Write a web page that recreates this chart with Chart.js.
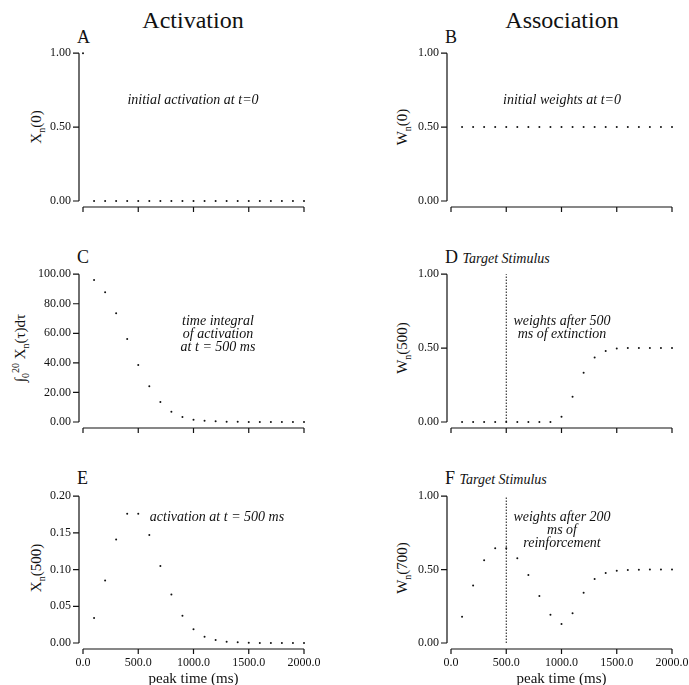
<!DOCTYPE html>
<html lang="en">
<head>
  <meta charset="UTF-8">
  <title>Activation and Association</title>
  <style>
    body {
      margin: 0;
      width: 689px;
      height: 685px;
      overflow: hidden;
      background: #fff;
      font-family: "Liberation Serif", "DejaVu Serif", serif;
      color: #111;
      position: relative;
    }
    canvas {
      position: absolute;
    }
    .txt {
      position: absolute;
      white-space: nowrap;
      transform: translate(-50%, -50%);
      text-align: center;
    }
    .head {
      font-size: 24px;
    }
    .letter {
      position: absolute;
      font-size: 18px;
      transform: translate(0, -50%);
      white-space: nowrap;
    }
    .letter i {
      font-size: 14px;
    }
    .note {
      font-style: italic;
      font-size: 14px;
      line-height: 13px;
    }
    .ytitle {
      font-size: 15px;
      transform: translate(-50%, -50%) rotate(-90deg);
    }
    .ytitle sub {
      font-size: 10px;
    }
  </style>
</head>
<body>

<div class="txt head" style="left:193px; top:20px;">Activation</div>
<div class="txt head" style="left:562px; top:20px;">Association</div>

<div class="letter" style="left:77px; top:37px;">A</div>
<div class="letter" style="left:445px; top:37px;">B</div>
<div class="letter" style="left:77px; top:257px;">C</div>
<div class="letter" style="left:445px; top:257px;">D <i>Target Stimulus</i></div>
<div class="letter" style="left:77px; top:478px;">E</div>
<div class="letter" style="left:445px; top:478px;">F <i>Target Stimulus</i></div>

<div class="txt ytitle" style="left:37px; top:127px;">X<sub>n</sub>(0)</div>
<div class="txt ytitle" style="left:403px; top:127px;">W<sub>n</sub>(0)</div>
<div class="txt ytitle" style="left:20px; top:348px;">&int;<sub>0</sub><sup style="font-size:10px">20</sup> X<sub>n</sub>(&tau;)d&tau;</div>
<div class="txt ytitle" style="left:403px; top:348px;">W<sub>n</sub>(500)</div>
<div class="txt ytitle" style="left:37px; top:568px;">X<sub>n</sub>(500)</div>
<div class="txt ytitle" style="left:403px; top:568px;">W<sub>n</sub>(700)</div>

<!-- chart area top = canvas top + 19 (half label + tick padding) -->
<canvas id="chartA" width="336" height="196" style="left:0; top:34px;"></canvas>
<canvas id="chartB" width="359" height="196" style="left:345px; top:34px;"></canvas>
<canvas id="chartC" width="336" height="187" style="left:0; top:255px;"></canvas>
<canvas id="chartD" width="359" height="187" style="left:345px; top:255px;"></canvas>
<canvas id="chartE" width="336" height="212" style="left:0; top:477px;"></canvas>
<canvas id="chartF" width="359" height="212" style="left:345px; top:477px;"></canvas>

<div class="txt note" style="left:193px; top:99px;">initial activation at t=0</div>
<div class="txt note" style="left:562px; top:99px;">initial weights at t=0</div>
<div class="txt note" style="left:218px; top:333px;">time integral<br>of activation<br>at t = 500 ms</div>
<div class="txt note" style="left:562px; top:327px;">weights after 500<br>ms of extinction</div>
<div class="txt note" style="left:217px; top:516px;">activation at t = 500 ms</div>
<div class="txt note" style="left:562px; top:529px;">weights after 200<br>ms of<br>reinforcement</div>

<script src="https://cdn.jsdelivr.net/npm/chart.js"></script>
<script>
  // peak times of the units (ms)
  const peakTimes = [100, 200, 300, 400, 500, 600, 700, 800, 900, 1000,
                     1100, 1200, 1300, 1400, 1500, 1600, 1700, 1800, 1900, 2000];
  const peakTimesA = [0, 100, 200, 300, 400, 500, 600, 700, 800, 900, 1000,
                      1100, 1200, 1300, 1400, 1500, 1600, 1700, 1800, 1900, 2000];

  // A: initial activation at t=0
  const initActivation = [1, 0, 0, 0, 0, 0, 0, 0, 0, 0, 0,
                          0, 0, 0, 0, 0, 0, 0, 0, 0, 0];
  // B: initial weights at t=0
  const initWeights = [0.5, 0.5, 0.5, 0.5, 0.5, 0.5, 0.5, 0.5, 0.5, 0.5,
                       0.5, 0.5, 0.5, 0.5, 0.5, 0.5, 0.5, 0.5, 0.5, 0.5];
  // C: time integral of activation at t = 500 ms
  const activationIntegral = [96.0, 87.8, 73.6, 56.2, 38.6, 24.2, 13.5, 7.0, 3.4, 1.6,
                              0.9, 0.45, 0.2, 0.1, 0.05, 0, 0, 0, 0, 0];
  // D: weights after 500 ms of extinction
  const weightsExtinction = [0, 0, 0, 0, 0, 0, 0, 0, 0, 0.036,
                             0.17, 0.334, 0.436, 0.48, 0.497, 0.5, 0.5, 0.5, 0.5, 0.5];
  // E: activation at t = 500 ms
  const activation500 = [0.034, 0.085, 0.141, 0.176, 0.176, 0.147, 0.105, 0.066, 0.037, 0.0186,
                         0.0086, 0.004, 0.0018, 0.001, 0.0005, 0, 0, 0, 0, 0];
  // F: weights after 200 ms of reinforcement
  const weightsReinforce = [0.178, 0.392, 0.564, 0.646, 0.646, 0.578, 0.463, 0.32, 0.192, 0.129,
                            0.203, 0.343, 0.436, 0.476, 0.492, 0.497, 0.499, 0.5, 0.5, 0.5];

  // target stimulus onset (ms)
  const targetTime = [500];

  // tick values
  const xTicks = [0, 500, 1000, 1500, 2000];
  const yTicksUnit = [0, 0.5, 1];
  const yTicksIntegral = [0, 20, 40, 60, 80, 100];
  const yTicksAct = [0, 0.05, 0.1, 0.15, 0.2];

  const ink = '#111';
  const serif = '"Liberation Serif", "DejaVu Serif", serif';

  // axes drawn a little apart from the plot area (Prism style)
  const detachedAxes = {
    id: 'detachedAxes',
    afterDraw(chart) {
      const {ctx, chartArea} = chart;
      const xs = chart.scales.x, ys = chart.scales.y;
      const ax = chartArea.left - 4;
      const ay = chartArea.bottom + 6;
      ctx.save();
      ctx.strokeStyle = ink;
      ctx.lineWidth = 1.2;
      ctx.beginPath();
      ctx.moveTo(ax, ys.getPixelForValue(ys.max));
      ctx.lineTo(ax, ys.getPixelForValue(ys.min));
      ys.ticks.forEach(t => {
        const py = ys.getPixelForValue(t.value);
        ctx.moveTo(ax, py);
        ctx.lineTo(ax - 6, py);
      });
      ctx.moveTo(xs.getPixelForValue(xs.min), ay);
      ctx.lineTo(xs.getPixelForValue(xs.max), ay);
      xs.ticks.forEach(t => {
        const px = xs.getPixelForValue(t.value);
        ctx.moveTo(px, ay);
        ctx.lineTo(px, ay + 5);
      });
      ctx.stroke();
      ctx.restore();
    }
  };

  function makePanel(id, xs, ys, yTicks, yMax, opts) {
    const datasets = [{
      data: xs.map((x, i) => ({x: x, y: ys[i]})),
      pointRadius: 1,
      pointBorderWidth: 0,
      backgroundColor: ink,
      borderColor: ink,
      clip: false
    }];
    if (opts.marker) {
      datasets.unshift({
        type: 'line',
        data: [{x: targetTime[0], y: 0}, {x: targetTime[0], y: yMax}],
        borderColor: ink,
        borderWidth: 1,
        borderDash: [1.5, 1.5],
        pointRadius: 0,
        clip: false
      });
    }
    return new Chart(document.getElementById(id), {
      type: 'scatter',
      data: {datasets: datasets},
      options: {
        responsive: false,
        animation: false,
        events: [],
        layout: {padding: {top: 0, right: 32, left: 0, bottom: 0}},
        plugins: {legend: {display: false}, tooltip: {enabled: false}},
        scales: {
          x: {
            type: 'linear',
            min: 0,
            max: 2000,
            afterBuildTicks: s => { s.ticks = xTicks.map(v => ({value: v})); },
            afterFit: s => { s.height = opts.xHeight; },
            grid: {display: false, drawTicks: false},
            border: {display: false},
            ticks: {
              display: !!opts.xLabels,
              padding: 13,
              color: ink,
              font: {family: serif, size: 12},
              callback: v => v.toFixed(1)
            },
            title: {
              display: !!opts.xLabels,
              text: 'peak time (ms)',
              color: ink,
              font: {family: serif, size: 15},
              padding: {top: 0, bottom: 1}
            }
          },
          y: {
            type: 'linear',
            min: 0,
            max: yMax,
            afterBuildTicks: s => { s.ticks = yTicks.map(v => ({value: v})); },
            afterFit: s => { s.width = opts.yWidth; },
            grid: {display: false, drawTicks: false},
            border: {display: false},
            ticks: {
              padding: 12,
              color: ink,
              font: {family: serif, size: 12},
              callback: v => v.toFixed(2)
            }
          }
        }
      },
      plugins: [detachedAxes]
    });
  }

  const left = {yWidth: 83};
  const right = {yWidth: 106};

  makePanel('chartA', peakTimesA, initActivation, yTicksUnit, 1,
    Object.assign({xHeight: 29}, left));
  makePanel('chartB', peakTimes, initWeights, yTicksUnit, 1,
    Object.assign({xHeight: 29}, right));
  makePanel('chartC', peakTimes, activationIntegral, yTicksIntegral, 100,
    Object.assign({xHeight: 20}, left));
  makePanel('chartD', peakTimes, weightsExtinction, yTicksUnit, 1,
    Object.assign({xHeight: 20, marker: true}, right));
  makePanel('chartE', peakTimes, activation500, yTicksAct, 0.2,
    Object.assign({xHeight: 46, xLabels: true}, left));
  makePanel('chartF', peakTimes, weightsReinforce, yTicksUnit, 1,
    Object.assign({xHeight: 46, xLabels: true, marker: true}, right));
</script>

</body>
</html>
